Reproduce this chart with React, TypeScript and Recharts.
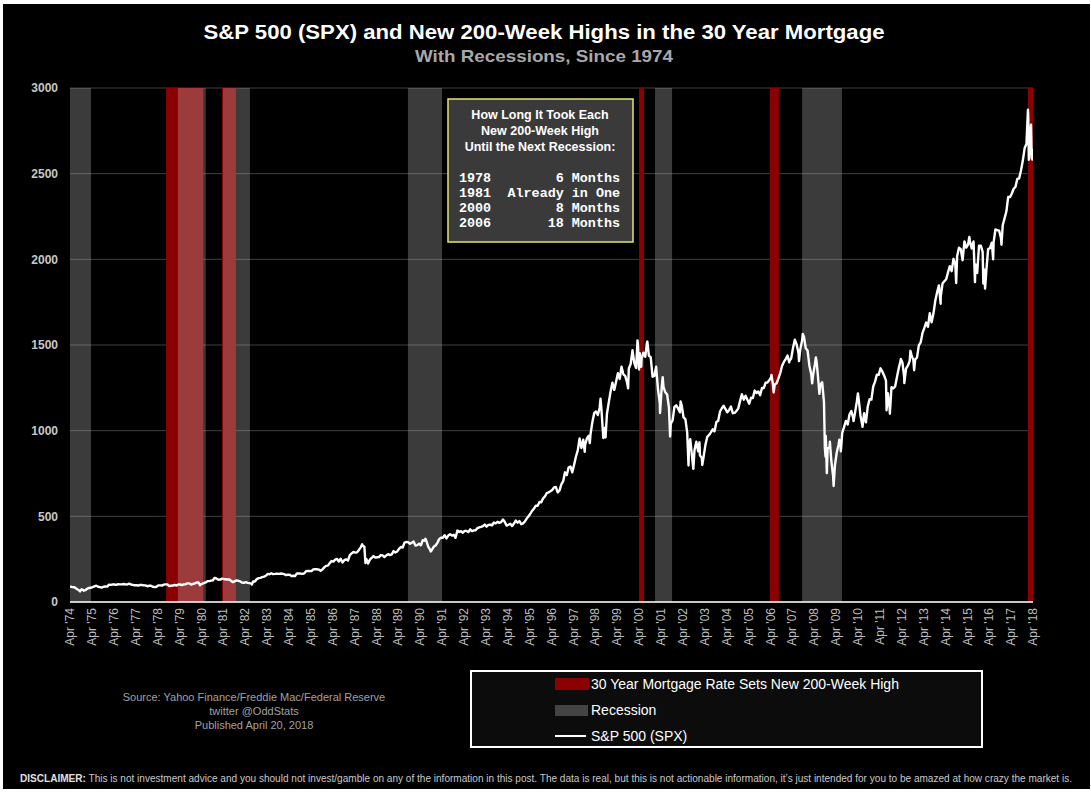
import React from 'react';
import { ComposedChart, Line, XAxis, YAxis, CartesianGrid, ReferenceArea } from 'recharts';

const FONT = '"Liberation Sans", Arial, Helvetica, sans-serif';
const MONO = '"Liberation Mono", "Courier New", monospace';

// S&P 500 month-end closes, Apr 1974 .. Mar 2018
const spxMonthEnd = [
  90, 87, 86, 79, 72, 64, 74, 70, 69,
  77, 82, 83, 87, 91, 95, 89, 87, 84, 89, 91, 90,
  101, 100, 103, 102, 100, 104, 103, 103, 105, 103, 102, 107,
  102, 100, 98, 98, 96, 100, 99, 97, 97, 92, 95, 95,
  89, 87, 89, 97, 97, 96, 101, 103, 103, 93, 95, 96,
  100, 96, 102, 102, 99, 103, 104, 109, 109, 102, 106, 108,
  114, 114, 102, 106, 111, 114, 122, 122, 125, 127, 141, 136,
  130, 131, 136, 133, 133, 131, 131, 123, 116, 122, 126, 123,
  120, 113, 112, 116, 112, 110, 107, 120, 120, 134, 139, 141,
  145, 148, 153, 164, 162, 168, 163, 164, 166, 164, 166, 165,
  163, 157, 159, 160, 151, 153, 151, 167, 166, 166, 164, 167,
  180, 181, 181, 180, 190, 192, 191, 189, 182, 190, 202, 211,
  212, 227, 239, 236, 247, 251, 236, 253, 231, 244, 249, 242,
  274, 284, 292, 288, 290, 304, 319, 330, 322, 252, 230, 247,
  257, 268, 259, 261, 262, 274, 272, 262, 272, 279, 274, 278,
  297, 289, 295, 310, 321, 318, 346, 351, 349, 340, 346, 353,
  329, 332, 340, 331, 361, 358, 356, 323, 306, 304, 322, 330,
  344, 367, 375, 375, 390, 371, 388, 395, 388, 392, 375, 417,
  409, 413, 404, 415, 415, 408, 424, 414, 418, 419, 431, 436,
  439, 443, 452, 440, 450, 451, 448, 464, 459, 468, 462, 466,
  482, 467, 446, 451, 457, 444, 458, 475, 463, 472, 454, 459,
  470, 487, 501, 515, 533, 545, 562, 562, 584, 582, 605, 616,
  636, 640, 646, 654, 669, 671, 640, 652, 687, 705, 757, 741,
  786, 791, 757, 801, 848, 885, 954, 899, 947, 915, 955, 970,
  980, 1049, 1102, 1112, 1091, 1134, 1121, 957, 1017, 1099, 1164, 1229,
  1280, 1238, 1286, 1335, 1302, 1373, 1329, 1320, 1283, 1363, 1389, 1469,
  1394, 1366, 1499, 1452, 1421, 1455, 1431, 1518, 1437, 1429, 1315, 1320,
  1366, 1240, 1160, 1249, 1256, 1224, 1211, 1134, 1041, 1060, 1139, 1148,
  1130, 1107, 1147, 1077, 1067, 990, 912, 916, 815, 886, 936, 880,
  856, 841, 848, 917, 964, 975, 990, 1008, 996, 1051, 1058, 1112,
  1131, 1145, 1126, 1107, 1121, 1141, 1102, 1104, 1115, 1130, 1174, 1212,
  1181, 1204, 1181, 1157, 1192, 1191, 1234, 1220, 1229, 1207, 1249, 1248,
  1280, 1281, 1295, 1311, 1270, 1270, 1277, 1304, 1336, 1378, 1401, 1418,
  1438, 1407, 1421, 1482, 1531, 1503, 1455, 1474, 1527, 1549, 1481, 1468,
  1379, 1331, 1323, 1386, 1400, 1280, 1267, 1283, 1166, 969, 896, 903,
  826, 735, 798, 873, 919, 919, 987, 1021, 1057, 1036, 1096, 1115,
  1074, 1104, 1169, 1187, 1089, 1031, 1102, 1049, 1141, 1183, 1181, 1258,
  1286, 1327, 1326, 1364, 1345, 1321, 1292, 1219, 1131, 1253, 1247, 1258,
  1312, 1366, 1408, 1398, 1310, 1362, 1379, 1407, 1441, 1412, 1416, 1426,
  1498, 1515, 1569, 1598, 1631, 1606, 1686, 1633, 1682, 1757, 1806, 1848,
  1783, 1859, 1872, 1884, 1924, 1960, 1931, 2003, 1972, 2018, 2068, 2059,
  1995, 2105, 2068, 2086, 2107, 2063, 2104, 1972, 1920, 2079, 2080, 2044,
  1940, 1932, 2060, 2065, 2097, 2099, 2174, 2171, 2168, 2126, 2199, 2239,
  2279, 2364, 2363, 2384, 2412, 2423, 2470, 2472, 2519, 2575, 2648, 2674,
  2824, 2714, 2641,
];

// highs and lows between month ends that show in the daily line: [decimal year, close]
const spxSwings: [number, number][] = [
  [1974.30, 90], [1974.76, 62], [1974.93, 66], [1978.18, 87], [1980.24, 98],
  [1980.90, 140], [1982.61, 102], [1987.65, 337], [1987.80, 227], [1987.92, 224],
  [1990.54, 369], [1990.78, 295], [1997.82, 877], [1998.05, 927], [1998.54, 1186],
  [1998.77, 960], [1999.80, 1247], [2000.23, 1527], [2000.30, 1357], [2000.40, 1373],
  [2000.68, 1520], [2001.08, 1373], [2001.26, 1103], [2001.38, 1312], [2001.72, 966],
  [2002.20, 1170], [2002.56, 797], [2002.64, 950], [2002.78, 777], [2003.06, 932],
  [2003.19, 800], [2006.35, 1325], [2006.45, 1223], [2007.16, 1399], [2007.61, 1406],
  [2007.78, 1565], [2008.21, 1276], [2008.38, 1427], [2008.54, 1215], [2008.79, 899],
  [2008.82, 848], [2008.88, 752], [2009.02, 935], [2009.19, 677], [2009.45, 947],
  [2009.52, 879], [2010.10, 1056], [2010.30, 1217], [2010.51, 1022], [2011.61, 1119],
  [2011.76, 1099], [2012.26, 1419], [2012.42, 1278], [2012.70, 1466], [2012.87, 1353],
  [2014.08, 1741], [2014.79, 1862], [2015.39, 2131], [2015.65, 1867], [2016.03, 1859],
  [2016.11, 1829], [2016.48, 2000], [2016.86, 2085], [2018.07, 2873], [2018.11, 2581],
  [2018.21, 2786], [2018.24, 2588], [2018.27, 2582], [2018.30, 2590],
];

// shaded periods, [from, to] in decimal years
const recessions: [number, number][] = [
  [1974.30, 1975.26], [1979.23, 1980.50], [1981.29, 1982.52],
  [1989.74, 1991.30], [2001.03, 2001.81], [2007.75, 2009.57],
];
const mortgageHighs: [number, number][] = [
  [1978.69, 1980.38], [1981.24, 1981.88], [2000.30, 2000.53],
  [2006.28, 2006.69], [2018.07, 2018.30],
];

const tickYears = [
  1974, 1975, 1976, 1977, 1978, 1979, 1980, 1981, 1982, 1983, 1984, 1985, 1986, 1987, 1988,
  1989, 1990, 1991, 1992, 1993, 1994, 1995, 1996, 1997, 1998, 1999, 2000, 2001, 2002, 2003,
  2004, 2005, 2006, 2007, 2008, 2009, 2010, 2011, 2012, 2013, 2014, 2015, 2016, 2017, 2018,
];
const yTicks = [0, 500, 1000, 1500, 2000, 2500, 3000];

const lagYears = ['1978', '1981', '2000', '2006'];
const lagText = ['6 Months', 'Already in One', '8 Months', '18 Months'];

const spxData = [
  ...spxMonthEnd.map((v, i) => ({ x: 1974 + (4 + i) / 12, spx: v })),
  ...spxSwings.map(([x, v]) => ({ x, spx: v })),
].sort((a, b) => a.x - b.x);

const xTicks = tickYears.map((y) => y + 0.3);

function YearTick(props: any) {
  const { x, y, payload } = props;
  const yr = String(Math.floor(payload.value)).slice(2);
  return (
    <text
      x={x}
      y={y}
      transform={`rotate(-90, ${x}, ${y})`}
      textAnchor="end"
      dy="0.35em"
      fill="#bdbdbd"
      fontSize={12}
      fontFamily={FONT}
    >
      {`Apr '${yr}`}
    </text>
  );
}

export default function App() {
  return (
    <div style={{ position: 'relative', width: 1091, height: 793, background: '#ffffff' }}>
      <style>{'body{margin:0}'}</style>
      <div style={{ position: 'absolute', left: 3, top: 4, width: 1087, height: 785, background: '#000' }} />
      <div style={{ position: 'absolute', left: 0, top: 0 }}>
        <ComposedChart
          width={1091}
          height={660}
          data={spxData}
          margin={{ top: 88, right: 58, bottom: 3, left: 10 }}
        >
          <CartesianGrid vertical={false} stroke="#404040" />
          {mortgageHighs.map(([a, b]) => (
            <ReferenceArea key={'m' + a} x1={a} x2={b} fill="#8b0000" fillOpacity={1} stroke="none" />
          ))}
          {recessions.map(([a, b]) => (
            <ReferenceArea key={'r' + a} x1={a} x2={b} fill="#c4c4c4" fillOpacity={0.3} stroke="none" />
          ))}
          <XAxis
            type="number"
            dataKey="x"
            domain={[1974.3, 2018.3]}
            ticks={xTicks}
            interval={0}
            tick={<YearTick />}
            tickLine={false}
            tickSize={0}
            tickMargin={6}
            height={55}
            stroke="#ffffff"
            strokeWidth={1.5}
            allowDataOverflow
          />
          <YAxis
            domain={[0, 3000]}
            ticks={yTicks}
            width={60}
            axisLine={false}
            tickLine={false}
            tickSize={0}
            tickMargin={12}
            tick={{ fill: '#c8c8c8', fontSize: 12, fontWeight: 'bold', fontFamily: FONT }}
          />
          <Line
            type="linear"
            dataKey="spx"
            stroke="#ffffff"
            strokeWidth={2.4}
            strokeLinejoin="round"
            dot={false}
            isAnimationActive={false}
          />
        </ComposedChart>
      </div>
      <svg width={1091} height={793} style={{ position: 'absolute', left: 0, top: 0, pointerEvents: 'none' }}>
        <text x={544} y={39} textAnchor="middle" fill="#fff" fontSize={20} fontWeight="bold" fontFamily={FONT}
          textLength={681} lengthAdjust="spacingAndGlyphs">
          S&amp;P 500 (SPX) and New 200-Week Highs in the 30 Year Mortgage
        </text>
        <text x={544} y={62} textAnchor="middle" fill="#a8a8a8" fontSize={17} fontWeight="bold" fontFamily={FONT}
          textLength={258} lengthAdjust="spacingAndGlyphs">
          With Recessions, Since 1974
        </text>

        <rect x={448} y={99} width={185} height={143} fill="#3a3a3a" stroke="#e4e47a" strokeWidth={1.5} />
        {['How Long It Took Each', 'New 200-Week High', 'Until the Next Recession:'].map((t, i) => (
          <text key={t} x={540} y={118.5 + i * 16} textAnchor="middle" fill="#fff" fontSize={12.5}
            fontWeight="bold" fontFamily={FONT}>{t}</text>
        ))}
        {lagYears.map((yr, i) => (
          <g key={yr} fill="#fff" fontSize={13.4} fontWeight="bold" fontFamily={MONO}>
            <text x={459} y={181.5 + i * 15.3}>{yr}</text>
            <text x={620} y={181.5 + i * 15.3} textAnchor="end">{lagText[i]}</text>
          </g>
        ))}

        <g fill="#a0a0a0" fontSize={11} fontFamily={FONT} textAnchor="middle">
          <text x={254} y={701}>Source: Yahoo Finance/Freddie Mac/Federal Reserve</text>
          <text x={254} y={715}>twitter @OddStats</text>
          <text x={254} y={729}>Published April 20, 2018</text>
        </g>

        <rect x={471} y={671} width={511} height={76} fill="#0c0c0c" stroke="#fff" strokeWidth={2} />
        <rect x={555} y={678} width={34} height={12} fill="#8b0000" />
        <rect x={555} y={705} width={33} height={11} fill="#444" />
        <line x1={555} x2={586} y1={736} y2={736} stroke="#fff" strokeWidth={2} />
        <g fill="#fff" fontSize={14} fontFamily={FONT}>
          <text x={591} y={689}>30 Year Mortgage Rate Sets New 200-Week High</text>
          <text x={591} y={715}>Recession</text>
          <text x={591} y={741}>S&amp;P 500 (SPX)</text>
        </g>

        <text x={20} y={782} fill="#c8c8c8" fontSize={10} fontFamily={FONT}
          textLength={1052} lengthAdjust="spacingAndGlyphs">
          <tspan fontWeight="bold" fill="#e0e0e0">DISCLAIMER:</tspan>
          {' This is not investment advice and you should not invest/gamble on any of the information in this post. The data is real, but this is not actionable information, it\u2019s just intended for you to be amazed at how crazy the market is.'}
        </text>
      </svg>
    </div>
  );
}
